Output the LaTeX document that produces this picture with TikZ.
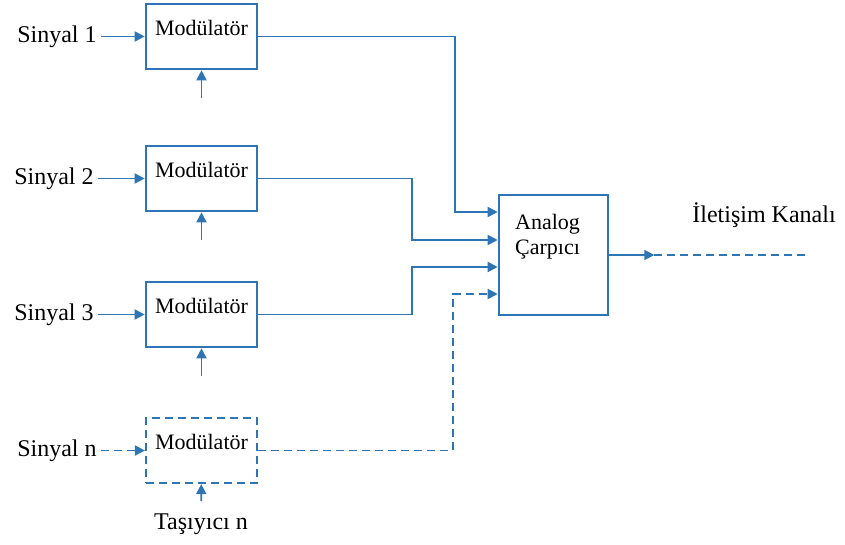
\documentclass[tikz,border=0pt]{standalone}
\usepackage{fontspec}
\setmainfont{Liberation Serif}
\definecolor{wire}{HTML}{2E75B6}
\usetikzlibrary{arrows.meta, positioning}
\tikzset{
  modbox/.style={draw=wire, line width=1.3pt, minimum width=55.5pt, minimum height=32.5pt, inner sep=0pt},
  modtxt/.style={font=\fontsize{11}{12.5}\selectfont, inner sep=0pt},
  sig/.style={font=\fontsize{12}{14}\selectfont, inner sep=2pt},
  flow/.style={-{Triangle[length=5pt,width=5pt]}, line width=0.9pt, color=wire},
  dflow/.style={flow, dash pattern=on 4pt off 2.5pt},
}
\begin{document}
\begin{tikzpicture}[x=0.5pt,y=-0.5pt]
  \useasboundingbox (0,0) rectangle (845,545);
  % modulators 1..3
  \foreach \i/\y/\sx in {1/36.5/101,2/178.5/98,3/314.5/98} {
    \node[modbox] (m\i) at (201.5,\y) {};
    \node[modtxt,below=8.5pt of m\i.north] {Modülatör};
    \node[sig,anchor=east] (s\i) at (\sx,\y) {Sinyal \i};
    \coordinate[below=14pt of m\i] (c\i);
    \draw[flow] (s\i) -- (m\i);
    \draw[flow] (c\i) -- (m\i);
  }
  % modulator n
  \node[modbox,line width=1.1pt,dash pattern=on 4pt off 2.5pt] (mn) at (201.5,450.5) {};
  \node[modtxt,below=8.5pt of mn.north] {Modülatör};
  \node[sig,anchor=east] (sn) at (101,450.5) {Sinyal n};
  \node[sig] (tn) at (201,524) {Taşıyıcı n};
  \draw[dflow] (sn) -- (mn);
  \draw[flow,shorten <=4pt] (tn) -- (mn);
  % multiplier
  \node[modbox,minimum width=54.5pt,minimum height=60pt] (an) at (553.5,255) {};
  \node[modtxt,align=center,below=10pt of an.north,xshift=-3pt] {Analog\\Çarpıcı};
  \draw[flow] (m1.east) -| (455,212) -- (an.west |- 0,212);
  \draw[flow] (m2.east) -| (412,240) -- (an.west |- 0,240);
  \draw[flow] (m3.east) -| (412,267) -- (an.west |- 0,267);
  \draw[dflow] (mn.east) -| (453,294) -- (an.west |- 0,294);
  % channel
  \node[sig] (ch) at (764,215) {İletişim Kanalı};
  \coordinate (end) at (805,255);
  \draw[flow] (an.east) -- ++(45,0) coordinate (tip);
  \draw[dflow,-] (tip) -- (end);
\end{tikzpicture}
\end{document}
